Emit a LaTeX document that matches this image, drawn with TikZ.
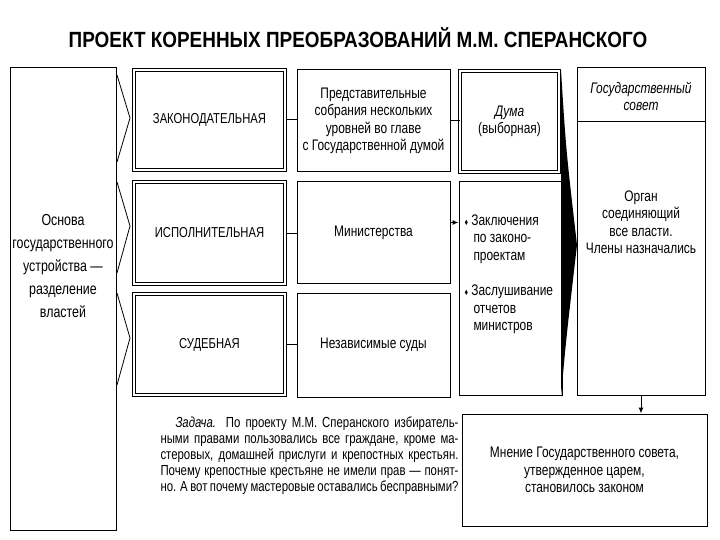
\documentclass[tikz,border=0pt]{standalone}
\usepackage{fontspec}
\setmainfont{Liberation Sans}[FakeStretch=0.78]
\newfontfamily\titlefont{Liberation Sans}[FakeStretch=0.86]
\newcommand{\tline}[2][0pt]{\hspace*{#1}\makebox[\dimexpr298pt-#1\relax][s]{#2}}
\usetikzlibrary{arrows.meta}
\begin{document}
\begin{tikzpicture}[x=1pt,y=-1pt,line width=1pt,
  box/.style={draw,rectangle,inner sep=0pt,align=center,font=\fontsize{15.3}{17.5}\selectfont},
  dbox/.style={box,double,double distance=2.3pt,font=\fontsize{14.4}{17}\selectfont},
  lbl/.style={inner sep=0pt,align=center,font=\fontsize{15.3}{17.5}\selectfont},
  chev/.style={line width=0.8pt},
  arr/.style={-{Latex[length=6pt,width=5pt]}}]
\useasboundingbox (0,0) rectangle (720,540);
\node[inner sep=0pt,font=\titlefont\fontsize{22}{24}\bfseries\selectfont] (title) at (358,38) {ПРОЕКТ КОРЕННЫХ ПРЕОБРАЗОВАНИЙ М.М. СПЕРАНСКОГО};
% left box
\node[box,minimum width=106,minimum height=462] (left) at (63,299) {};
\node[lbl,font=\fontsize{15.9}{23.2}\selectfont] (leftt) at (63,266) {Основа\\государственного\\устройства —\\разделение\\властей};
% chevrons
\coordinate (c1a) at (117,75); \coordinate (c1b) at (130,118); \coordinate (c1c) at (117,162);
\coordinate (c2a) at (117,182); \coordinate (c2b) at (130,226); \coordinate (c2c) at (117,273);
\coordinate (c3a) at (117,293); \coordinate (c3b) at (130,338); \coordinate (c3c) at (117,385);
\draw[chev] (c1a) -- (c1b) -- (c1c);
\draw[chev] (c2a) -- (c2b) -- (c2c);
\draw[chev] (c3a) -- (c3b) -- (c3c);
% branches
\node[dbox,minimum width=151,minimum height=100] (b1) at (209.5,120) {ЗАКОНОДАТЕЛЬНАЯ};
\node[dbox,minimum width=151,minimum height=102] (b2) at (209.5,233) {ИСПОЛНИТЕЛЬНАЯ};
\node[dbox,minimum width=151,minimum height=101] (b3) at (209.5,344.5) {СУДЕБНАЯ};
% middle
\node[box,minimum width=153,minimum height=102] (m1) at (373.5,121) {Представительные\\собрания нескольких\\уровней во главе\\с Государственной думой};
\node[box,minimum width=153,minimum height=101] (m2) at (373.5,232.5) {Министерства};
\node[box,minimum width=153,minimum height=104] (m3) at (373.5,345) {Независимые суды};
% right column
\node[dbox,font=\fontsize{15.3}{17.5}\selectfont,minimum width=99,minimum height=101] (duma) at (509.5,121.5) {\itshape Дума\\(выборная)};
\node[box,minimum width=103,minimum height=213] (zak) at (510.5,288.5) {};
\node[lbl,anchor=north west,align=left] (zakt) at (464,214) {{\small♦} Заключения\\\hspace*{9pt}по законо-\\\hspace*{9pt}проектам\\[18pt]{\small♦} Заслушивание\\\hspace*{9pt}отчетов\\\hspace*{9pt}министров};
% wedge
\fill (561,70) .. controls (566,150) .. (577,245) .. controls (566,340) .. (561,397) -- cycle;
% state council
\node[box,minimum width=128,minimum height=327] (gs) at (641,231.5) {};
\coordinate (gsd) at (577,122);
\draw (gsd) -- (gsd -| gs.east);
\node[lbl,font=\fontsize{15.3}{17}\itshape\selectfont] (gst) at (641,96) {Государственный\\совет};
\node[lbl] (gsb) at (641,222) {Орган\\соединяющий\\все власти.\\Члены назначались};
% opinion box
\node[box,minimum width=245,minimum height=112] (mn) at (584.5,470) {Мнение Государственного совета,\\утвержденное царем,\\становилось законом};
% connectors
\draw (b1.east) -- (b1.east -| m1.west);
\draw (b2.east) -- (b2.east -| m2.west);
\draw (b3.east) -- (b3.east -| m3.west);
\draw (m1.east) -- (m1.east -| duma.west);
\draw[arr] ([yshift=10pt]m2.east) -- ([yshift=10pt]m2.east -| zak.west);
\draw[arr] (gs.south) -- (gs.south |- mn.north);
% task text
\node[inner sep=0pt,anchor=north west,align=left,font=\fontsize{14.6}{16}\selectfont] (task) at (160,416)
{\tline[15pt]{\textit{Задача.} По проекту М.М. Сперанского избиратель-}\\
\tline{ными правами пользовались все граждане, кроме ма-}\\
\tline{стеровых, домашней прислуги и крепостных крестьян.}\\
\tline{Почему крепостные крестьяне не имели прав — понят-}\\
\tline{но. А вот почему мастеровые оставались бесправными?}};
\end{tikzpicture}
\end{document}
